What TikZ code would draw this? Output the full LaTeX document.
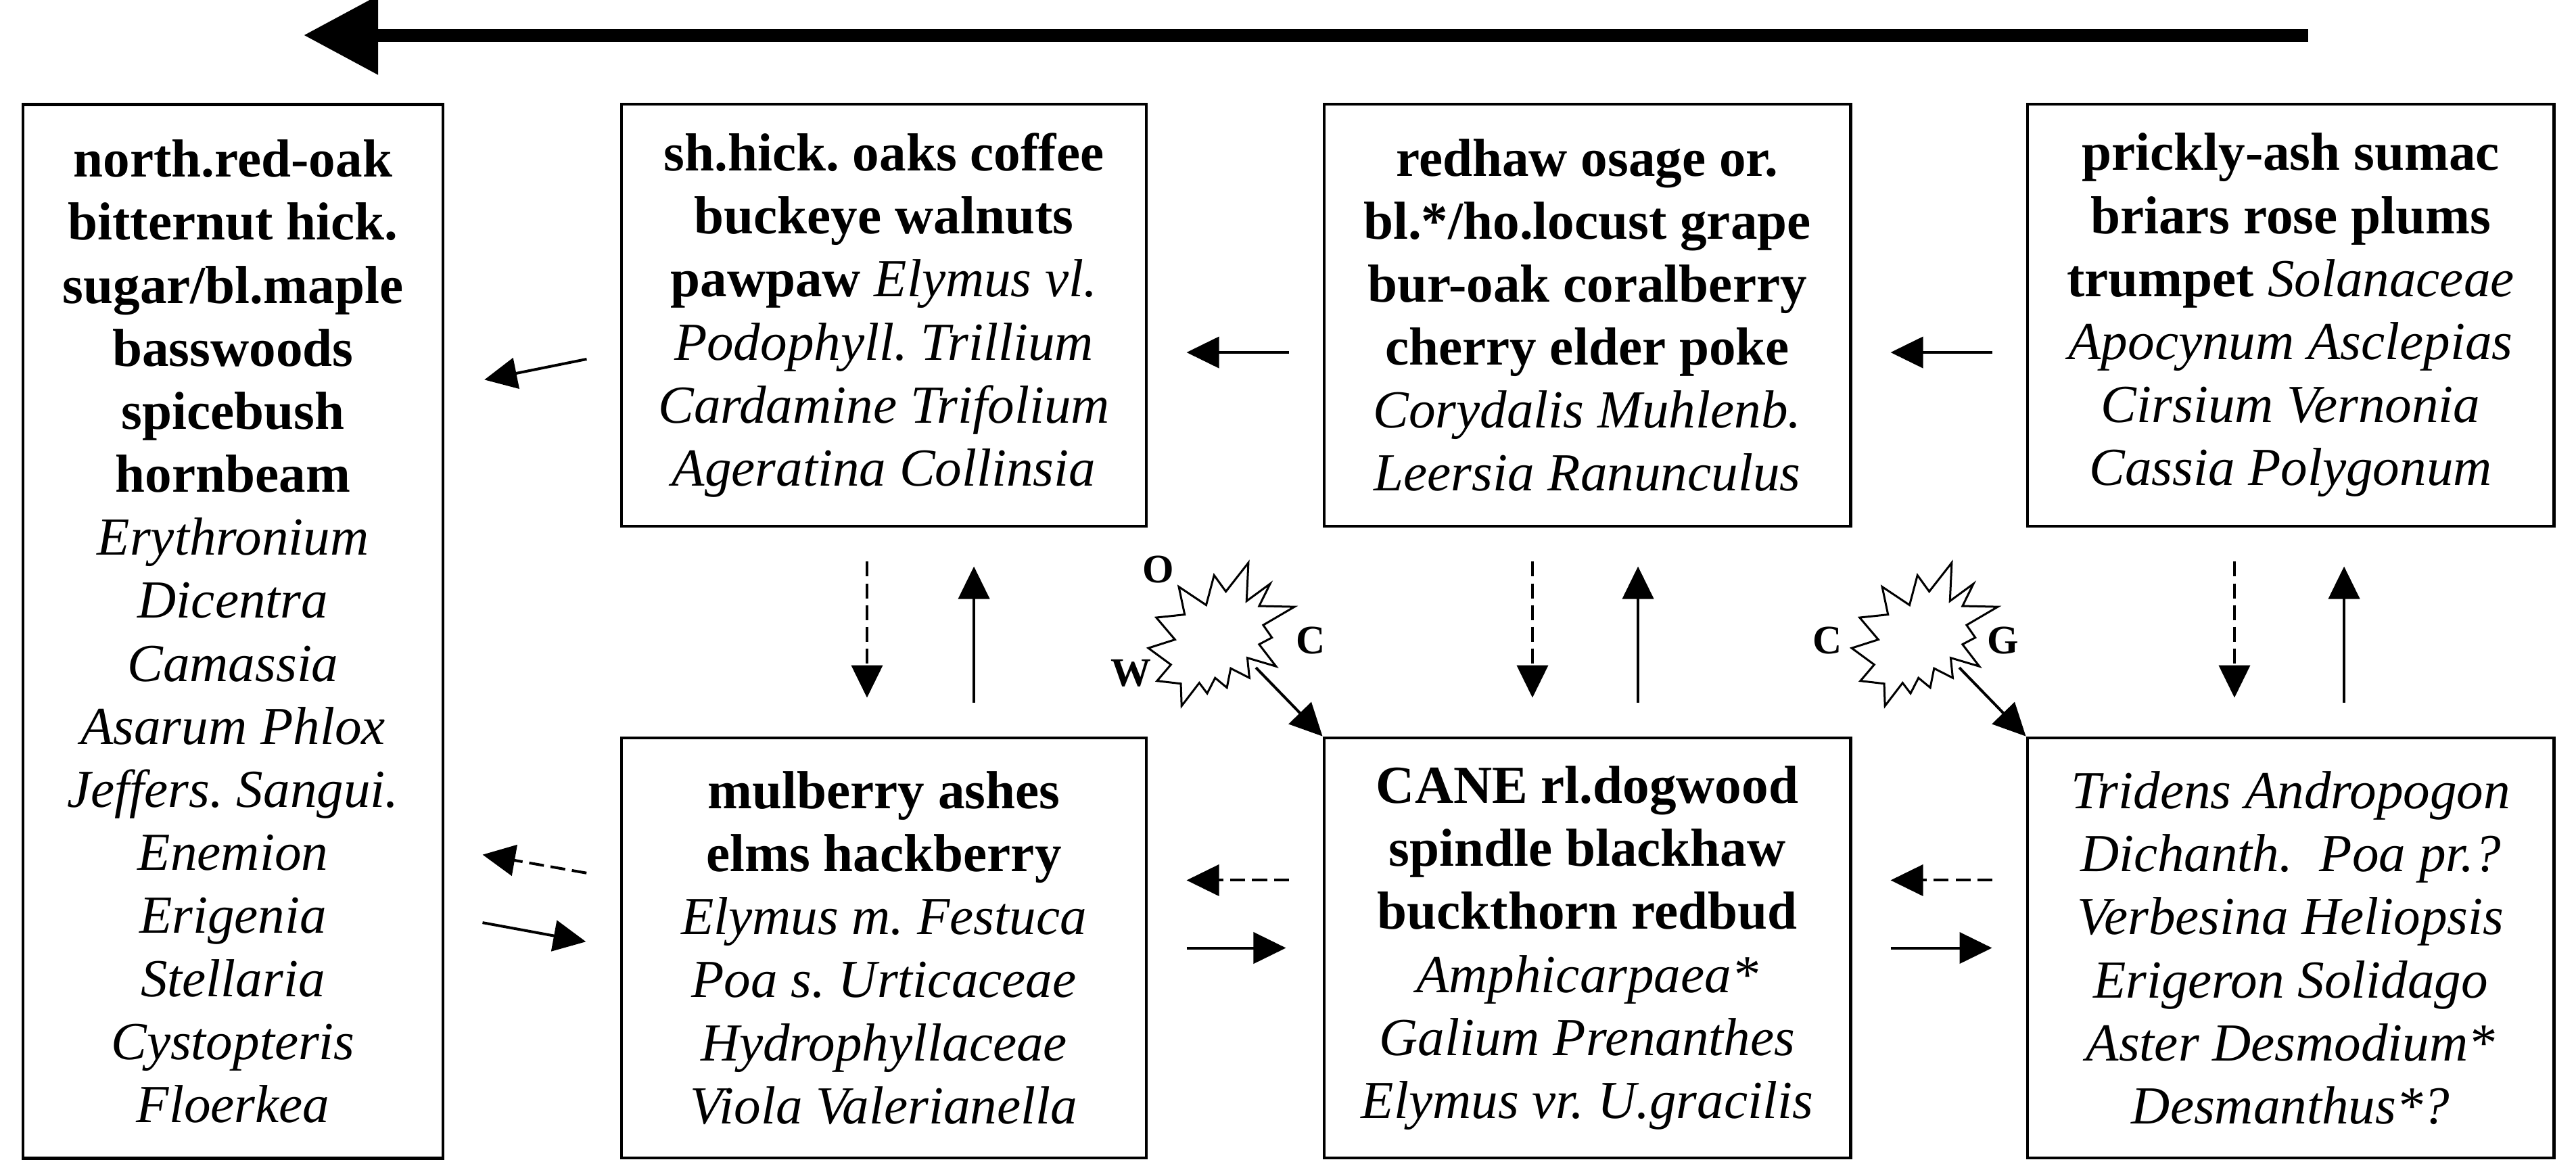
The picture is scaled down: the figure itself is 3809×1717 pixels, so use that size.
\documentclass[tikz,border=0pt]{standalone}
\usepackage{fontspec}
\setmainfont{Liberation Serif}
\usetikzlibrary{arrows.meta}
\def\burst(#1,#2){\draw[line width=0.03cm, fill=white, shift={(#1,#2)}, yscale=0.98] (97.22,18.87) -- (114.62,43.42) -- (147.90,0) -- (145.25,57.77) -- (180.07,31.72) -- (163.80,65.32) -- (216,66.45) -- (169.85,94.02) -- (182.70,112.90) -- (163.80,123.10) -- (188.77,156.32) -- (146.40,143.50) -- (149.42,173.70) -- (121.80,159.35) -- (116.12,188.42) -- (98.72,173.70) -- (87.00,197.12) -- (75.27,181.25) -- (49.17,216) -- (48.05,182.40) -- (12.85,178.25) -- (33.30,153.70) -- (0,128.77) -- (39.35,115.92) -- (11.72,82.70) -- (53.72,78.17) -- (45.02,36.25) -- (85.50,63.82) -- cycle;}
\tikzset{
  stage/.style={draw, line width=0.045cm, align=center, inner sep=0pt, font=\fontsize{22.5}{26.5}\selectfont},
  flow/.style={-{Triangle[length=0.48cm,width=0.46cm]}, line width=0.04cm, shorten <=0.5cm, shorten >=0.57cm},
  weakflow/.style={flow, dash pattern=on 0.22cm off 0.1cm},
  burstlabel/.style={font=\fontsize{17}{20}\selectfont\bfseries, inner sep=0pt},
}
\begin{document}
\frenchspacing
\begin{tikzpicture}[x=0.01cm, y=-0.01cm]
			%%%%% START %%%%%
			\useasboundingbox (0,0) rectangle (3809,1717);
			
			\coordinate (trendtail) at (3413,52);
			\coordinate (trendhead) at (449,52);
			\draw[line width=0.19cm, -{Triangle[length=1.1cm,width=1.12cm]}] (trendtail) -- (trendhead);
			
			\node[stage, minimum width=6.21cm, minimum height=15.57cm] (lbox) at (344.5,933.5) {\textbf{north.red-oak}\\ \textbf{bitternut hick.}\\ \textbf{sugar/bl.maple}\\ \textbf{basswoods}\\ \textbf{spicebush}\\ \textbf{hornbeam}\\ \textit{Erythronium}\\ \textit{Dicentra}\\ \textit{Camassia}\\ \textit{Asarum Phlox}\\ \textit{Jeffers. Sangui.}\\ \textit{Enemion}\\ \textit{Erigenia}\\ \textit{Stellaria}\\ \textit{Cystopteris}\\ \textit{Floerkea}};
			
			\node[stage, minimum width=7.76cm, minimum height=6.24cm] (box2) at (1307,466) {\textbf{sh.hick. oaks coffee}\\ \textbf{buckeye walnuts}\\ \textbf{pawpaw} \textit{Elymus vl.}\\ \textit{Podophyll. Trillium}\\ \textit{Cardamine Trifolium}\\ \textit{Ageratina Collinsia}};
			\node[stage, minimum width=7.78cm, minimum height=6.24cm] (box3) at (2347,466) {\textbf{redhaw osage or.}\\ \textbf{bl.*/ho.locust grape}\\ \textbf{bur-oak coralberry}\\ \textbf{cherry elder poke}\\ \textit{Corydalis Muhlenb.}\\ \textit{Leersia Ranunculus}};
			\node[stage, minimum width=7.78cm, minimum height=6.24cm] (box4) at (3387,466) {\textbf{prickly-ash sumac}\\ \textbf{briars rose plums}\\ \textbf{trumpet} \textit{Solanaceae}\\ \textit{Apocynum Asclepias}\\ \textit{Cirsium Vernonia}\\ \textit{Cassia Polygonum}};
			
			\node[stage, minimum width=7.76cm, minimum height=6.21cm] (box5) at (1307,1401.5) {\textbf{mulberry ashes}\\ \textbf{elms hackberry}\\ \textit{Elymus m. Festuca}\\ \textit{Poa s. Urticaceae}\\ \textit{Hydrophyllaceae}\\ \textit{Viola Valerianella}};
			\node[stage, minimum width=7.78cm, minimum height=6.21cm] (box6) at (2347,1401.5) {\textbf{CANE rl.dogwood}\\ \textbf{spindle blackhaw}\\ \textbf{buckthorn redbud}\\ \textit{Amphicarpaea*}\\ \textit{Galium Prenanthes}\\ \textit{Elymus vr. U.gracilis}};
			\node[stage, minimum width=7.78cm, minimum height=6.21cm] (box7) at (3387,1401.5) {\textit{Tridens Andropogon}\\ \textit{Dichanth.\ \ Poa pr.?}\\ \textit{Verbesina Heliopsis}\\ \textit{Erigeron Solidago}\\ \textit{Aster Desmodium*}\\ \textit{Desmanthus*?}};
			
			% top row, right to left
			\draw[flow] ([yshift=-0.55cm]box4.west) -- ([yshift=-0.55cm]box3.east);
			\draw[flow] ([yshift=-0.55cm]box3.west) -- ([yshift=-0.55cm]box2.east);
			\draw[flow, shorten >=0.6cm] ([yshift=-0.55cm]box2.west) -- ([yshift=3.6cm]lbox.east);
			
			% between the rows
			\draw[weakflow] ([xshift=-0.25cm]box2.south) -- ([xshift=-0.25cm]box5.north);
			\draw[flow] ([xshift=1.33cm]box5.north) -- ([xshift=1.33cm]box2.south);
			\draw[weakflow] ([xshift=-0.81cm]box3.south) -- ([xshift=-0.81cm]box6.north);
			\draw[flow] ([xshift=0.75cm]box6.north) -- ([xshift=0.75cm]box3.south);
			\draw[weakflow] ([xshift=-0.83cm]box4.south) -- ([xshift=-0.83cm]box7.north);
			\draw[flow] ([xshift=0.79cm]box7.north) -- ([xshift=0.79cm]box4.south);
			
			% bottom row
			\draw[weakflow] ([yshift=1.02cm]box5.west) -- ([yshift=-3.2cm]lbox.east);
			\draw[flow, shorten <=0.57cm, shorten >=0.51cm] ([yshift=-4.2cm]lbox.east) -- (box5.west);
			\draw[weakflow] ([yshift=1cm]box6.west) -- ([yshift=1cm]box5.east);
			\draw[flow, shorten <=0.57cm, shorten >=0.54cm] (box5.east) -- (box6.west);
			\draw[weakflow] ([yshift=1cm]box7.west) -- ([yshift=1cm]box6.east);
			\draw[flow, shorten <=0.57cm, shorten >=0.5cm] (box6.east) -- (box7.west);
			
			% disturbances
			\burst(1698,832)
			\burst(2738,832)
			\node[burstlabel] (lblO) at (1713,842) {O};
			\node[burstlabel] (lblW) at (1672,995) {W};
			\node[burstlabel] (lblC) at (1938,947) {C};
			\node[burstlabel] (lblCc) at (2702,947) {C};
			\node[burstlabel] (lblG) at (2962,947) {G};
			\coordinate (burstone) at (1857,987);
			\coordinate (bursttwo) at (2897,987);
			\draw[flow, shorten <=0pt, shorten >=0pt] (burstone) -- (box6.north west);
			\draw[flow, shorten <=0pt, shorten >=0pt] (bursttwo) -- (box7.north west);
			%%%%% END %%%%%
		\end{tikzpicture}
\end{document}
